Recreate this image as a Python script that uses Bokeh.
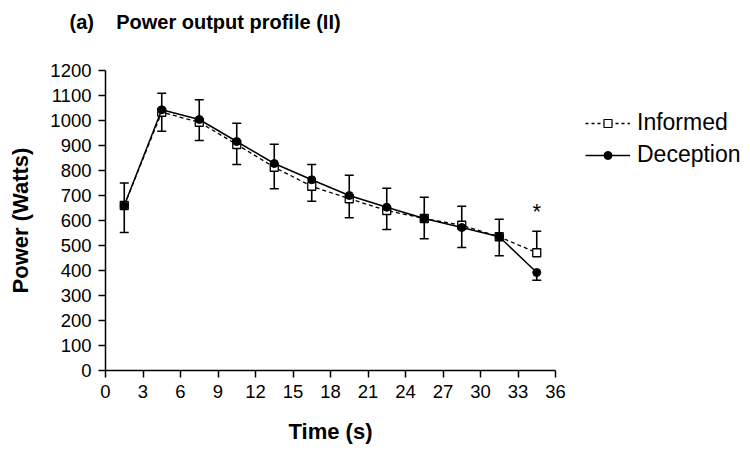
import numpy as np
from bokeh.plotting import figure
from bokeh.layouts import row
from bokeh.models import (ColumnDataSource, Whisker, TeeHead, FixedTicker, Title,
                          Legend, LegendItem, Range1d)
from bokeh.core.properties import value
from bokeh.embed import file_html
from bokeh.resources import INLINE

# ---- data ----
time_s = [1.5, 4.5, 7.5, 10.5, 13.5, 16.5, 19.5, 22.5, 25.5, 28.5, 31.5, 34.5]
informed = [660, 1033, 993, 904, 813, 737, 687, 640, 608, 581, 535, 471]
informed_sd = [90, 76, 90, 85, 92, 87, 94, 89, 85, 76, 70, 86]
deception = [660, 1043, 1004, 916, 828, 763, 700, 653, 608, 572, 535, 392]
deception_sd = [108, 86, 84, 92, 101, 86, 89, 89, 81, 80, 76, 31]
x_ticks = list(range(0, 37, 3))
y_ticks = list(range(0, 1201, 100))
sig_time = [34.5]
sig_mark = ["*"]
series_names = ["Informed", "Deception"]

FONT = "Liberation Sans"

src_i = ColumnDataSource(dict(
    t=time_s, y=informed,
    up=list(np.array(informed) + np.array(informed_sd)), lo=informed))
src_d = ColumnDataSource(dict(
    t=time_s, y=deception,
    up=deception, lo=list(np.array(deception) - np.array(deception_sd))))

p = figure(width=570, height=450, output_backend="svg", toolbar_location=None,
           x_range=Range1d(0, 36), y_range=Range1d(0, 1200),
           min_border_left=105, min_border_right=15,
           min_border_top=70, min_border_bottom=80, title=None)
p.outline_line_color = None
p.grid.visible = False
p.background_fill_color = "white"
p.border_fill_color = "white"

for ax, ticks in ((p.xaxis[0], x_ticks), (p.yaxis[0], y_ticks)):
    ax.ticker = FixedTicker(ticks=ticks)
    ax.minor_tick_line_color = None
    ax.major_tick_in = 0
    ax.major_tick_out = 7
    ax.major_tick_line_width = 1.5
    ax.axis_line_width = 1.5
    ax.axis_line_color = "black"
    ax.major_tick_line_color = "black"
    ax.major_label_text_font = FONT
    ax.major_label_text_font_size = "18.5px"
    ax.major_label_text_color = "black"
    ax.major_label_standoff = 7
    ax.axis_label_text_font = FONT
    ax.axis_label_text_font_style = "bold"
    ax.axis_label_text_font_size = "22px"
    ax.axis_label_text_color = "black"

p.xaxis.axis_label = "Time (s)"
p.xaxis.axis_label_standoff = 18
p.yaxis.axis_label = "Power (Watts)"
p.yaxis.axis_label_standoff = 14

# title: spacer (closest to frame) then the real title
p.add_layout(Title(text="\u00a0", text_font_size="1px", standoff=30), "above")
p.add_layout(Title(text="(a)\u00a0\u00a0\u00a0\u00a0Power output profile (II)",
                   align="left", offset=-36, text_font=FONT, text_font_size="20px",
                   text_font_style="bold", text_color="black", standoff=10), "above")

# error bars
w_i = Whisker(source=src_i, base="t", upper="up", lower="lo", dimension="height",
              line_color="black", line_width=1.6,
              upper_head=TeeHead(size=9, line_width=1.6, line_color="black"),
              lower_head=None)
w_d = Whisker(source=src_d, base="t", upper="up", lower="lo", dimension="height",
              line_color="black", line_width=1.6,
              lower_head=TeeHead(size=9, line_width=1.6, line_color="black"),
              upper_head=None)
p.add_layout(w_i)
p.add_layout(w_d)

# series
p.line("t", "y", source=src_i, line_color="black", line_width=1.3, line_dash="4 3")
p.scatter("t", "y", source=src_i, marker="square", size=8, fill_color="white",
          line_color="black", line_width=1.3)
p.line("t", "y", source=src_d, line_color="black", line_width=1.5)
p.scatter("t", "y", source=src_d, marker="circle", size=8, fill_color="black",
          line_color="black")

# significance marker
p.text(x=sig_time, y=[informed[-1] + informed_sd[-1] + 80], text=sig_mark,
       text_font=value(FONT), text_font_size="22px", text_align="center",
       text_baseline="alphabetic", text_color="black")

# ---- legend panel (separate figure to the right) ----
lg = figure(width=180, height=450, output_backend="svg", toolbar_location=None,
            x_range=Range1d(-10, -9), y_range=Range1d(-10, -9),
            min_border=0, x_axis_location=None, y_axis_location=None, title=None)
lg.outline_line_color = None
lg.grid.visible = False
# proxies: same data, outside the visible range, so only the legend glyphs show
lli = lg.line("t", "y", source=src_i, line_color="black", line_width=1.3, line_dash="3 3")
lsi = lg.scatter("t", "y", source=src_i, marker="square", size=6, fill_color="white",
                 line_color="black", line_width=1.2)
lld = lg.line("t", "y", source=src_d, line_color="black", line_width=1.5)
lsd = lg.scatter("t", "y", source=src_d, marker="circle", size=6, fill_color="black",
                 line_color="black")
legend = Legend(items=[LegendItem(label=series_names[0], renderers=[lli, lsi]),
                       LegendItem(label=series_names[1], renderers=[lld, lsd])],
                location=(15, 202), padding=0, margin=0, spacing=5,
                glyph_width=45, glyph_height=20, label_height=20,
                label_standoff=7, border_line_color=None,
                background_fill_alpha=0,
                label_text_font=FONT, label_text_font_size="23px",
                label_text_color="black")
lg.add_layout(legend, "center")

layout = row(p, lg)
open("out.html", "w").write(file_html(layout, INLINE))
